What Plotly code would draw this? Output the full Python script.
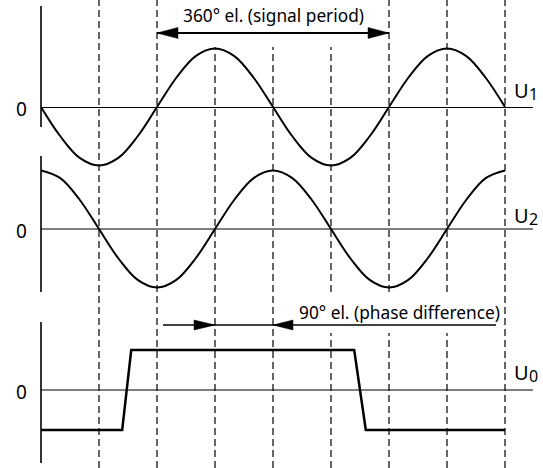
import plotly.graph_objects as go

# ---------------- data ----------------
angles = [0, 30, 60, 90, 120, 150, 180, 210, 240, 270, 300, 330, 360,
          390, 420, 450, 480, 510, 540, 570, 600, 630, 660, 690, 720]
u1 = [0, -0.5, -0.87, -1, -0.87, -0.5, 0, 0.5, 0.87, 1, 0.87, 0.5, 0,
      -0.5, -0.87, -1, -0.87, -0.5, 0, 0.5, 0.87, 1, 0.87, 0.5, 0]
u2 = [1, 0.87, 0.5, 0, -0.5, -0.87, -1, -0.87, -0.5, 0, 0.5, 0.87, 1,
      0.87, 0.5, 0, -0.5, -0.87, -1, -0.87, -0.5, 0, 0.5, 0.87, 1]
u0_angles = [0, 126, 140, 486, 504, 720]
u0 = [-1, -1, 1, 1, -1, -1]
dashed_angles = [90, 180, 270, 360, 450, 540, 630, 720]
period_text = "360° el. (signal period)"
phase_text = "90° el. (phase difference)"
channel_letter = "U"
channel_subs = ["1", "2", "0"]

# ---------------- layout helpers ----------------
W, H = 543, 468
ML, MR = 41, 10
PX_PER_DEG = 58 / 90
FONT = "Noto Sans"


def deg(px):
    return (px - ML) / PX_PER_DEG


def pap(py):
    return 1 - py / H


def xpap(px):
    return (px - ML) / (W - ML - MR)


# zero pixel, amplitude pixel, domain top px, domain bottom px
chan = [(107, 58.5, 0, 200), (229, 58.5, 140, 310), (390, 40, 310, 468)]
label_y = [(90.5, 94), (215.5, 219), (372.5, 376)]


def yaxis_cfg(zero, amp, top, bot, zcol, zw):
    return dict(domain=[pap(bot), pap(top)],
                range=[(zero - bot) / amp, (zero - top) / amp],
                showgrid=False, showticklabels=False, ticks="",
                showline=False, zeroline=True, zerolinecolor=zcol,
                zerolinewidth=zw, anchor="x", fixedrange=True)


fig = go.Figure()
fig.add_trace(go.Scatter(x=angles, y=u1, mode="lines", yaxis="y",
                         line=dict(color="black", width=2, shape="spline"),
                         hoverinfo="skip", showlegend=False))
fig.add_trace(go.Scatter(x=angles, y=u2, mode="lines", yaxis="y2",
                         line=dict(color="black", width=2, shape="spline"),
                         hoverinfo="skip", showlegend=False))
fig.add_trace(go.Scatter(x=u0_angles, y=u0, mode="lines", yaxis="y3",
                         line=dict(color="black", width=2.5),
                         hoverinfo="skip", showlegend=False))

shapes = []
for a in dashed_angles:
    shapes.append(dict(type="line", xref="x", yref="paper", x0=a, x1=a,
                       y0=0, y1=1, line=dict(color="black", width=1.2,
                                             dash="7px,4px")))
shapes.append(dict(type="rect", xref="x", yref="paper", x0=deg(200), x1=deg(350),
                   y0=pap(47), y1=pap(0), fillcolor="white", line=dict(width=0)))
shapes.append(dict(type="rect", xref="x", yref="paper", x0=deg(292), x1=deg(500),
                   y0=pap(333), y1=pap(296), fillcolor="white", line=dict(width=0)))
for top, bot in [(6, 127), (156, 292), (322, 463)]:
    shapes.append(dict(type="line", xref="paper", yref="paper", x0=0, x1=0,
                       y0=pap(bot), y1=pap(top),
                       line=dict(color="black", width=1.6)))


def tri(tip_px, base_px, y_px, half=5.5):
    return dict(type="path", xref="x", yref="paper",
                path=f"M {deg(tip_px)},{pap(y_px)} L {deg(base_px)},{pap(y_px - half)} "
                     f"L {deg(base_px)},{pap(y_px + half)} Z",
                fillcolor="black", line=dict(color="black", width=0.5))


shapes.append(dict(type="line", xref="x", yref="paper", x0=180, x1=540,
                   y0=pap(33), y1=pap(33), line=dict(color="black", width=1.8)))
shapes.append(tri(157, 178, 33))
shapes.append(tri(389, 368, 33))
shapes.append(dict(type="line", xref="x", yref="paper", x0=deg(163), x1=deg(496),
                   y0=pap(325), y1=pap(325), line=dict(color="black", width=1.4)))
shapes.append(tri(215, 194, 325, 5))
shapes.append(tri(273, 293, 325, 5))

ann = []
ann.append(dict(text=period_text, x=360, xref="x", y=pap(16), yref="paper",
                xanchor="center", yanchor="middle",
                showarrow=False, font=dict(family=FONT, size=17.3, color="black")))
ann.append(dict(text=phase_text, x=deg(399), xref="x", y=pap(312), yref="paper",
                xanchor="center", yanchor="middle",
                showarrow=False, font=dict(family=FONT, size=17.3, color="black")))
for (zero, amp, top, bot), sub, (uy, sy) in zip(chan, channel_subs, label_y):
    ann.append(dict(text="0", x=xpap(29), xref="paper", xanchor="right",
                    y=pap(zero + 2), yref="paper", yanchor="middle",
                    showarrow=False, font=dict(family=FONT, size=19, color="black")))
    ann.append(dict(text=channel_letter, x=xpap(512), xref="paper", xanchor="left",
                    y=pap(uy), yref="paper", yanchor="middle",
                    showarrow=False, font=dict(family=FONT, size=20, color="black")))
    ann.append(dict(text=sub, x=xpap(527), xref="paper", xanchor="left",
                    y=pap(sy), yref="paper", yanchor="middle",
                    showarrow=False, font=dict(family=FONT, size=16, color="black")))

fig.update_layout(
    width=W, height=H,
    margin=dict(l=ML, r=MR, t=0, b=0),
    paper_bgcolor="white", plot_bgcolor="rgba(0,0,0,0)",
    xaxis=dict(range=[0, (W - ML - MR) / PX_PER_DEG], visible=False, fixedrange=True),
    yaxis=yaxis_cfg(*chan[0], "black", 1.2),
    yaxis2=yaxis_cfg(*chan[1], "#7f7f7f", 2),
    yaxis3=yaxis_cfg(*chan[2], "#7f7f7f", 2),
    shapes=shapes, annotations=ann, showlegend=False,
)

fig.write_html("out.html", config={"displayModeBar": False},
               post_script="document.body.style.margin='0';document.body.style.overflow='hidden';")
